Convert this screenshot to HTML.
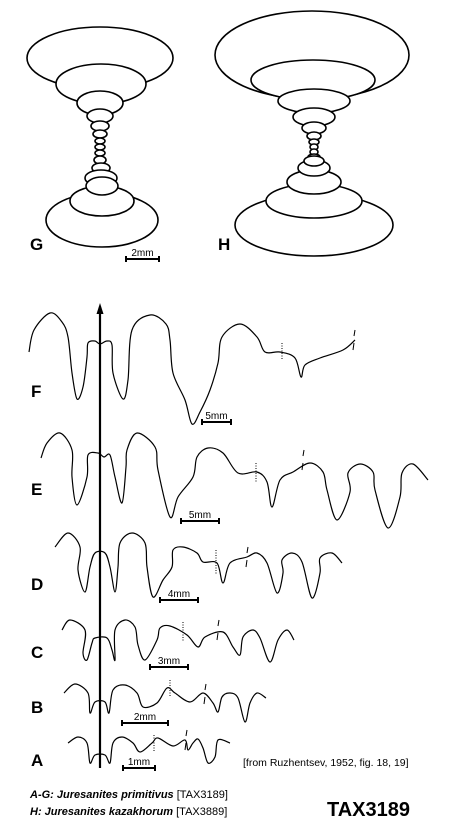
<!DOCTYPE html>
<html><head><meta charset="utf-8"><style>
html,body{margin:0;padding:0;background:#fff;}
svg{display:block;}
text{font-family:"Liberation Sans",sans-serif;fill:#000;}
</style></head><body>
<svg id="fig" width="473" height="830" viewBox="0 0 473 830" xmlns="http://www.w3.org/2000/svg">
<g id="sections" fill="#fff" stroke="#000" stroke-width="1.6"></g>
<g id="sutures" fill="none" stroke="#000" stroke-width="1.2"></g>
<line x1="100" y1="312" x2="100" y2="768" stroke="#000" stroke-width="2.2"/>
<polygon points="100,303 96.5,314 103.5,314" fill="#000"/>
<g id="marks" stroke="#000" stroke-width="1" fill="none"></g>
<g id="bars" stroke="#000" stroke-width="2"></g>
<g font-weight="bold" font-size="17">
<text x="30" y="250">G</text>
<text x="218" y="250">H</text>
<text x="31" y="397">F</text>
<text x="31" y="495">E</text>
<text x="31" y="590">D</text>
<text x="31" y="658">C</text>
<text x="31" y="713">B</text>
<text x="31" y="766">A</text>
</g>
<text x="243" y="766" font-size="10.5">[from Ruzhentsev, 1952, fig. 18, 19]</text>
<text x="30" y="798" font-size="11"><tspan font-weight="bold" font-style="italic">A-G: Juresanites primitivus</tspan> [TAX3189]</text>
<text x="30" y="815" font-size="11"><tspan font-weight="bold" font-style="italic">H: Juresanites kazakhorum</tspan> [TAX3889]</text>
<text x="327" y="816" font-size="20" font-weight="bold">TAX3189</text>
</svg>
<script>
const NS='http://www.w3.org/2000/svg';
function mk(tag,attrs,parent){const e=document.createElementNS(NS,tag);for(const k in attrs)e.setAttribute(k,attrs[k]);parent.appendChild(e);return e;}
// cross sections: [cx,cy,rx,ry], outer first
const secG=[[100,58,73,31],[101,84,45,20],[100,103,23,12],[100,116,13,7],[100,126,9,5],[100,134,7,4],[100,141,5,3],[100,147,5,3],[100,153,5,3],[100,160,6,4],[101,168,9,5],[101,178,16,8],[102,220,56,27],[102,201,32,15],[102,186,16,9]];
const secH=[[312,55,97,44],[313,80,62,20],[314,101,36,12],[314,117,21,9],[314,128,12,6],[314,136,7,4],[314,142,5,3],[314,147,4,3],[314,152,4,3],[314,157,6,3],[314,225,79,31],[314,201,48,17],[314,182,27,12],[314,168,16,8],[314,161,10,5]];
const sec=document.getElementById('sections');
[secG,secH].forEach((arr,i)=>arr.forEach(s=>{
 const e=mk('ellipse',{cx:s[0],cy:s[1],rx:s[2],ry:s[3]},sec);
 
 
}));
const rowF=[[29,352],[34,330],[50,313],[62,322],[68,337],[72,373],[77,399],[83,387],[87,357],[88,343],[95,341],[100,344],[107,341],[112,345],[113,373],[123,399],[128,380],[132,330],[150,315],[166,324],[170,340],[173,373],[185,400],[192,424],[200,412],[210,390],[218,363],[222,337],[240,324],[257,337],[265,352],[280,352],[295,358],[301,377],[305,365],[320,358],[343,350],[355,340]];
const rowE=[[41,458],[47,443],[60,433],[72,450],[72,477],[77,505],[87,477],[88,455],[98,453],[104,457],[110,455],[115,477],[122,503],[126,467],[127,450],[137,433],[155,447],[158,470],[170,517],[178,497],[193,477],[197,457],[208,448],[223,453],[238,473],[257,472],[267,482],[272,507],[280,480],[293,472],[310,463],[323,472],[327,490],[337,520],[350,492],[348,473],[360,464],[373,472],[375,490],[388,528],[400,497],[402,473],[413,464],[428,480]];
const rowD=[[55,547],[68,533],[80,547],[78,570],[85,592],[90,567],[95,553],[105,553],[110,567],[115,592],[118,567],[120,543],[132,533],[145,543],[147,567],[153,597],[163,580],[172,567],[173,550],[183,547],[197,553],[203,562],[217,563],[223,583],[230,563],[247,557],[257,553],[267,563],[277,593],[283,573],[282,560],[292,553],[302,562],[312,598],[320,573],[320,558],[332,553],[342,563]];
const rowC=[[62,630],[70,620],[85,630],[83,653],[87,660],[92,643],[95,638],[107,638],[112,650],[115,660],[115,630],[125,620],[135,627],[138,645],[145,660],[157,640],[160,628],[170,626],[187,635],[198,647],[205,637],[223,632],[233,647],[240,655],[243,637],[253,630],[260,638],[270,662],[278,640],[287,630],[294,640]];
const rowB=[[64,693],[75,684],[88,693],[90,713],[95,702],[105,702],[109,713],[113,690],[125,685],[137,693],[143,707],[157,703],[167,688],[175,693],[190,702],[203,693],[213,703],[218,712],[222,697],[230,693],[238,698],[245,722],[250,703],[257,693],[266,698]];
const rowA=[[68,743],[78,737],[87,743],[90,763],[95,755],[105,755],[110,763],[113,743],[122,737],[133,743],[140,752],[152,743],[158,738],[173,746],[185,740],[188,750],[193,743],[198,739],[203,748],[208,763],[215,757],[218,740],[230,743]];
function cr(p){let d='M'+p[0][0]+','+p[0][1];for(let i=0;i<p.length-1;i++){const p0=p[i-1]||p[i],p1=p[i],p2=p[i+1],p3=p[i+2]||p2;
d+=' C'+(p1[0]+(p2[0]-p0[0])/6).toFixed(1)+','+(p1[1]+(p2[1]-p0[1])/6).toFixed(1)+' '+(p2[0]-(p3[0]-p1[0])/6).toFixed(1)+','+(p2[1]-(p3[1]-p1[1])/6).toFixed(1)+' '+p2[0]+','+p2[1];}return d;}
const sut=document.getElementById('sutures');
[['suture-f',rowF],['suture-e',rowE],['suture-d',rowD],['suture-c',rowC],['suture-b',rowB],['suture-a',rowA]].forEach(r=>{
 const e=mk('path',{d:cr(r[1])},sut);
 
 
});
// dotted umbilical lines [x,y1,y2] and slash marks [x,y]
const dots=[[282,343,360],[256,463,482],[216,550,575],[183,622,642],[170,680,697],[154,735,752]];
const slashes=[[354,340],[303,460],[247,557],[218,630],[205,694],[186,740]];
const mg=document.getElementById('marks');
dots.forEach(d=>{const e=mk('line',{x1:d[0],y1:d[1],x2:d[0],y2:d[2],'stroke-dasharray':'1,1.5'},mg);
 
 });
slashes.forEach(s=>{const e=mk('path',{d:'M'+(s[0]+1)+','+(s[1]-10)+' L'+s[0]+','+(s[1]-4)+' M'+s[0]+','+(s[1]+3)+' L'+(s[0]-1)+','+(s[1]+10)},mg);
 
 });
// scale bars [x1,x2,y,label]
const bars=[[126,159,259,'2mm'],[202,231,422,'5mm'],[181,219,521,'5mm'],[160,198,600,'4mm'],[150,188,667,'3mm'],[122,168,723,'2mm'],[123,155,768,'1mm']];
const bg=document.getElementById('bars');
bars.forEach(b=>{const g=mk('g',{},bg);
 
 
 mk('line',{x1:b[0],y1:b[2],x2:b[1],y2:b[2]},g);
 mk('line',{x1:b[0],y1:b[2]-3,x2:b[0],y2:b[2]+3},g);
 mk('line',{x1:b[1],y1:b[2]-3,x2:b[1],y2:b[2]+3},g);
 const t=mk('text',{x:(b[0]+b[1])/2,y:b[2]-3,'text-anchor':'middle','font-size':'10',stroke:'none'},g);t.textContent=b[3];});
</script>
</body></html>
